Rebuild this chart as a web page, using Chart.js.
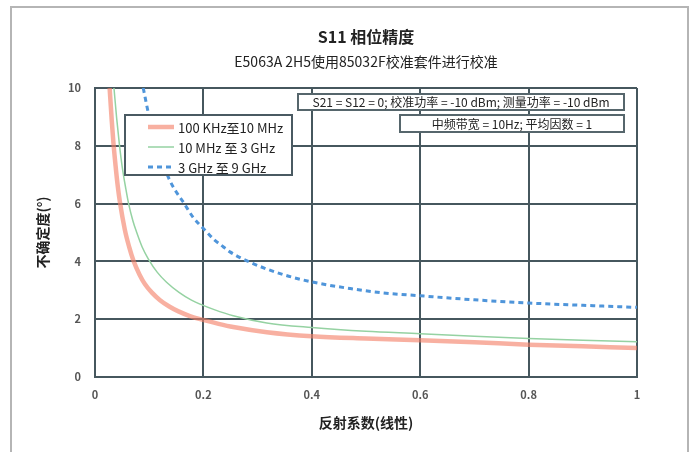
<!DOCTYPE html>
<html lang="zh">
<head>
    <meta charset="UTF-8">
    <title>S11 相位精度</title>
    <script src="https://cdn.jsdelivr.net/npm/chart.js"></script>
    <style>
        html, body {
            margin: 0;
            padding: 0;
            background: #fff;
        }
        #wrap {
            width: 690px;
            height: 452px;
        }
    </style>
</head>
<body>
    <div id="wrap">
        <canvas id="phaseChart" width="690" height="452"></canvas>
    </div>
    <script>
        // Values
        const seriesLabels = ['100 KHz至10 MHz', '10 MHz 至 3 GHz', '3 GHz 至 9 GHz'];

        const reflectionLow = [0.027, 0.031, 0.034, 0.038, 0.042, 0.046, 0.055, 0.063, 0.071, 0.082, 0.092, 0.105, 0.12, 0.137, 0.154, 0.175, 0.194, 0.228, 0.255, 0.317, 0.4, 0.5, 0.6, 0.7, 0.8, 0.9, 1.0];
        const uncertLow = [10, 8.85, 8.1, 7.3, 6.6, 6.05, 5.1, 4.5, 4.02, 3.55, 3.22, 2.92, 2.66, 2.44, 2.27, 2.11, 2.0, 1.84, 1.73, 1.55, 1.41, 1.33, 1.27, 1.2, 1.12, 1.06, 1.0];

        const reflectionMid = [0.035, 0.04, 0.045, 0.05, 0.057, 0.062, 0.07, 0.077, 0.087, 0.098, 0.115, 0.132, 0.155, 0.178, 0.194, 0.22, 0.255, 0.317, 0.4, 0.5, 0.6, 0.7, 0.8, 0.9, 1.0];
        const uncertMid = [10, 8.95, 8.05, 7.3, 6.5, 6.0, 5.4, 5.0, 4.5, 4.1, 3.62, 3.28, 2.93, 2.66, 2.52, 2.33, 2.12, 1.87, 1.71, 1.58, 1.5, 1.41, 1.33, 1.27, 1.22];

        const reflectionHigh = [0.089, 0.1, 0.113, 0.125, 0.138, 0.15, 0.163, 0.18, 0.203, 0.22, 0.237, 0.249, 0.286, 0.348, 0.4, 0.471, 0.532, 0.6, 0.7, 0.8, 0.9, 1.0];
        const uncertHigh = [10, 9, 8.1, 7.4, 6.8, 6.4, 6.05, 5.55, 5.08, 4.75, 4.5, 4.33, 3.97, 3.54, 3.29, 3.06, 2.91, 2.81, 2.67, 2.56, 2.48, 2.41];

        const xTicks = [0, 0.2, 0.4, 0.6, 0.8, 1];
        const yTicks = [0, 2, 4, 6, 8, 10];

        const titleText = 'S11 相位精度';
        const subtitleText = 'E5063A 2H5使用85032F校准套件进行校准';
        const noteLines = ['S21 = S12 = 0; 校准功率 = -10 dBm; 测量功率 = -10 dBm', '中频带宽 = 10Hz; 平均因数 = 1'];

        const FONT = "'Liberation Sans Narrow', 'Noto Sans CJK SC', sans-serif";
        const GRID = '#46575e';

        function pairs(xs, ys) {
            return xs.map((x, i) => ({ x: x, y: ys[i] }));
        }

        // frame, titles, legend and note boxes
        const decor = {
            id: 'decor',
            beforeDraw(chart) {
                const ctx = chart.ctx;
                ctx.save();
                ctx.fillStyle = '#fff';
                ctx.fillRect(0, 0, chart.width, chart.height);
                ctx.strokeStyle = '#b5b5b5';
                ctx.lineWidth = 2;
                ctx.strokeRect(11, 7, 677, 460);
                ctx.restore();
            },
            afterDatasetsDraw(chart) {
                const ctx = chart.ctx;
                const area = chart.chartArea;
                const cx = (area.left + area.right) / 2;
                ctx.save();

                ctx.fillStyle = '#222';
                ctx.textAlign = 'center';
                ctx.textBaseline = 'middle';
                ctx.font = 'bold 16px ' + FONT;
                ctx.fillText(titleText, cx, 37);
                ctx.font = '14px ' + FONT;
                ctx.fillText(subtitleText, cx, 62);

                // note boxes
                ctx.lineWidth = 2;
                ctx.strokeStyle = '#56666c';
                ctx.fillStyle = '#fff';
                ctx.fillRect(298, 94, 326, 16);
                ctx.strokeRect(298, 94, 326, 16);
                ctx.fillRect(400, 115, 224, 17);
                ctx.strokeRect(400, 115, 224, 17);
                ctx.fillStyle = '#222';
                ctx.font = '12px ' + FONT;
                ctx.fillText(noteLines[0], 461, 102.5);
                ctx.fillText(noteLines[1], 512, 124);

                // legend
                ctx.fillStyle = '#fff';
                ctx.fillRect(125, 115, 167, 60);
                ctx.strokeStyle = '#4a5a62';
                ctx.strokeRect(125, 115, 167, 60);
                ctx.textAlign = 'left';
                ctx.font = '13px ' + FONT;
                chart.data.datasets.forEach((ds, i) => {
                    const y = 127 + i * 20;
                    ctx.beginPath();
                    ctx.strokeStyle = ds.borderColor;
                    ctx.lineWidth = ds.borderWidth;
                    ctx.setLineDash(ds.borderDash || []);
                    ctx.moveTo(148, y);
                    ctx.lineTo(174, y);
                    ctx.stroke();
                    ctx.setLineDash([]);
                    ctx.fillStyle = '#222';
                    ctx.fillText(ds.label, 178, y + 1);
                });
                ctx.restore();
            }
        };

        const ctx = document.getElementById('phaseChart').getContext('2d');
        new Chart(ctx, {
            type: 'line',
            data: {
                datasets: [
                    {
                        label: seriesLabels[0],
                        data: pairs(reflectionLow, uncertLow),
                        borderColor: 'rgba(244, 128, 104, 0.62)',
                        borderWidth: 4.5
                    },
                    {
                        label: seriesLabels[1],
                        data: pairs(reflectionMid, uncertMid),
                        borderColor: '#95d2a2',
                        borderWidth: 1.5
                    },
                    {
                        label: seriesLabels[2],
                        data: pairs(reflectionHigh, uncertHigh),
                        borderColor: '#4f95da',
                        borderWidth: 3,
                        borderDash: [5, 4]
                    }
                ]
            },
            options: {
                responsive: false,
                animation: false,
                layout: {
                    padding: { top: 88, right: 53, left: 0, bottom: 0 }
                },
                elements: {
                    point: { radius: 0 },
                    line: { cubicInterpolationMode: 'monotone', fill: false }
                },
                plugins: {
                    legend: { display: false },
                    title: { display: false },
                    tooltip: { enabled: false }
                },
                scales: {
                    x: {
                        type: 'linear',
                        min: 0,
                        max: 1,
                        afterFit: s => { s.height = 75; },
                        afterBuildTicks: s => { s.ticks = xTicks.map(v => ({ value: v })); },
                        grid: { color: GRID, lineWidth: 2, drawTicks: false },
                        border: { color: GRID, width: 2 },
                        ticks: {
                            padding: 11,
                            color: '#555',
                            font: { family: FONT, size: 11, weight: 'bold' },
                            callback: v => String(+v.toFixed(1))
                        },
                        title: {
                            display: true,
                            text: '反射系数(线性)',
                            color: '#222',
                            font: { family: FONT, size: 14, weight: 'bold' },
                            padding: { top: 0, bottom: 21 }
                        }
                    },
                    y: {
                        min: 0,
                        max: 10,
                        afterFit: s => { s.width = 95; },
                        afterBuildTicks: s => { s.ticks = yTicks.map(v => ({ value: v })); },
                        grid: { color: GRID, lineWidth: 2, drawTicks: false },
                        border: { color: GRID, width: 2 },
                        ticks: {
                            padding: 14,
                            color: '#555',
                            font: { family: FONT, size: 11, weight: 'bold' }
                        },
                        title: {
                            display: true,
                            text: '不确定度(°)',
                            color: '#222',
                            font: { family: FONT, size: 14, weight: 'bold' },
                            padding: { top: 34, bottom: 0 }
                        }
                    }
                }
            },
            plugins: [decor]
        });
    </script>
</body>
</html>
